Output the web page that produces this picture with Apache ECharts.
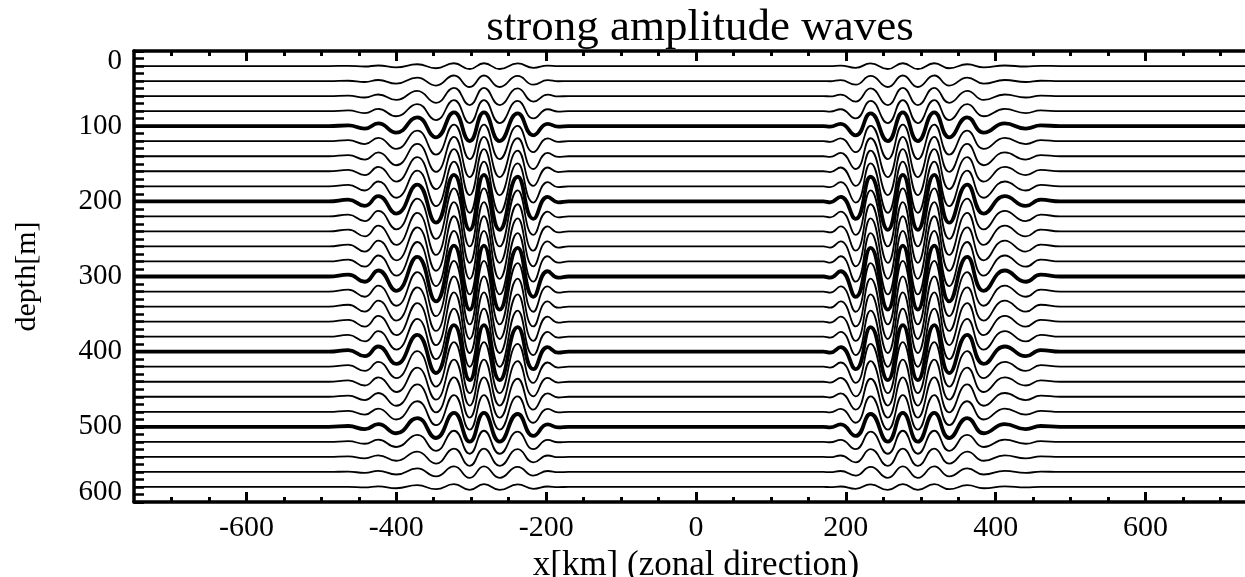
<!DOCTYPE html>
<html>
<head>
<meta charset="utf-8">
<script src="https://cdn.jsdelivr.net/npm/echarts@6/dist/echarts.min.js"></script>
<style>html,body{margin:0;padding:0;background:#fff}#c{width:1245px;height:577px}</style>
</head>
<body>
<div id="c"></div>
<script>
// isopycnal rest depths (m) and the relative amplitude of each (mid-depth = 1)
const depths = [20,40,60,80,100,120,140,160,180,200,220,240,260,280,300,320,340,360,380,400,420,440,460,480,500,520,540,560,580];
const ampFactor = [0.09,0.18,0.27,0.36,0.45,0.54,0.63,0.72,0.80,0.86,0.91,0.95,0.98,0.995,1.0,0.995,0.98,0.95,0.91,0.86,0.80,0.72,0.63,0.54,0.45,0.36,0.27,0.18,0.09];
const thickDepths = [100,200,300,400,500];
// crest / trough positions (km) and upward displacement (m) of the 300 m line, western packet
const xLeft   = [-520,-490,-464,-442,-424,-400,-372,-347,-323,-302,-283,-262,-238,-217,-198,-184,-170,-150];
const etaLeft = [0,0,2.5,-7,8,-19,26,-33,41,-44,41,-44,38,-27,7,-1.5,0,0];
// eastern packet
const xRight   = [150,170,179,193,213,233,256,276,296,318,338,362,384,412,440,460,486,520];
const etaRight = [0,0,-1.5,7,-27,38,-44,41,-44,41,-33,26,-19,8,-7,2.5,0,0];
const xMajor = [-600,-400,-200,0,200,400,600];
const xMinor = [-700,-650,-550,-500,-450,-350,-300,-250,-150,-100,-50,50,100,150,250,300,350,450,500,550,650,700];

const FONT = '"Liberation Serif", "Times New Roman", serif';
const chart = echarts.init(document.getElementById('c'), null, {renderer: 'canvas'});

const series = depths.map((d, i) => {
  const f = ampFactor[i];
  const pts = [[-750, d]];
  xLeft.forEach((x, k) => pts.push([x, d - f * etaLeft[k]]));
  pts.push([0, d]);
  xRight.forEach((x, k) => pts.push([x, d - f * etaRight[k]]));
  pts.push([750, d]);
  const thick = thickDepths.includes(d);
  return {
    type: 'line', xAxisIndex: 0, yAxisIndex: 0, data: pts, smooth: 0.5,
    showSymbol: false, symbol: 'none', silent: true, animation: false,
    lineStyle: {color: '#000', width: thick ? 3.8 : 1.8},
    z: thick ? 3 : 2
  };
});

function xAxisDef(pos, vals, len, line, labels) {
  return {
    type: 'value', position: pos, min: -750, max: 750, gridIndex: 0,
    axisLine: {show: line, onZero: false, lineStyle: {color: '#000', width: 3.5}},
    axisTick: {show: true, inside: true, customValues: vals, length: len, lineStyle: {color: '#000', width: 3}},
    axisLabel: labels ? {show: true, customValues: xMajor, color: '#000', fontFamily: FONT, fontSize: 30, margin: 11} : {show: false},
    splitLine: {show: false}
  };
}

const option = {
  animation: false,
  backgroundColor: '#fff',
  title: {
    text: 'strong amplitude waves', left: 695, top: 1, textAlign: 'center',
    textStyle: {fontFamily: FONT, fontWeight: 'normal', fontSize: 45, color: '#000'}
  },
  grid: {left: 134, right: -13, top: 51, bottom: 75, containLabel: false, outerBoundsMode: 'none'},
  xAxis: [
    Object.assign(xAxisDef('bottom', xMajor, 10, true, true), {
      name: 'x[km] (zonal direction)', nameLocation: 'middle', nameGap: 43,
      nameTextStyle: {fontFamily: FONT, fontSize: 35, color: '#000'}
    }),
    xAxisDef('bottom', xMinor, 5, false, false),
    xAxisDef('top', xMajor, 10, true, false),
    xAxisDef('top', xMinor, 5, false, false)
  ],
  yAxis: [{
    type: 'value', inverse: true, min: 0, max: 600, interval: 100,
    name: 'depth[m]', nameLocation: 'middle', nameGap: 92, nameRotate: 90,
    nameTextStyle: {fontFamily: FONT, fontSize: 30, color: '#000'},
    axisLine: {show: true, onZero: false, lineStyle: {color: '#000', width: 3.5}},
    axisTick: {show: true, inside: true, length: 10, lineStyle: {color: '#000', width: 3}},
    minorTick: {show: true, splitNumber: 10, length: 10, lineStyle: {color: '#000', width: 2.5}},
    splitLine: {show: false}, minorSplitLine: {show: false},
    axisLabel: {
      color: '#000', fontFamily: FONT, fontSize: 29, margin: 12,
      formatter: v => v === 0 ? '{a|0}' : (v === 600 ? '{b|600}' : String(v)),
      rich: {
        a: {fontFamily: FONT, fontSize: 29, color: '#000', padding: [20, 0, 0, 0]},
        b: {fontFamily: FONT, fontSize: 29, color: '#000', padding: [0, 0, 20, 0]}
      }
    }
  }],
  series: series
};
chart.setOption(option);
</script>
</body>
</html>
